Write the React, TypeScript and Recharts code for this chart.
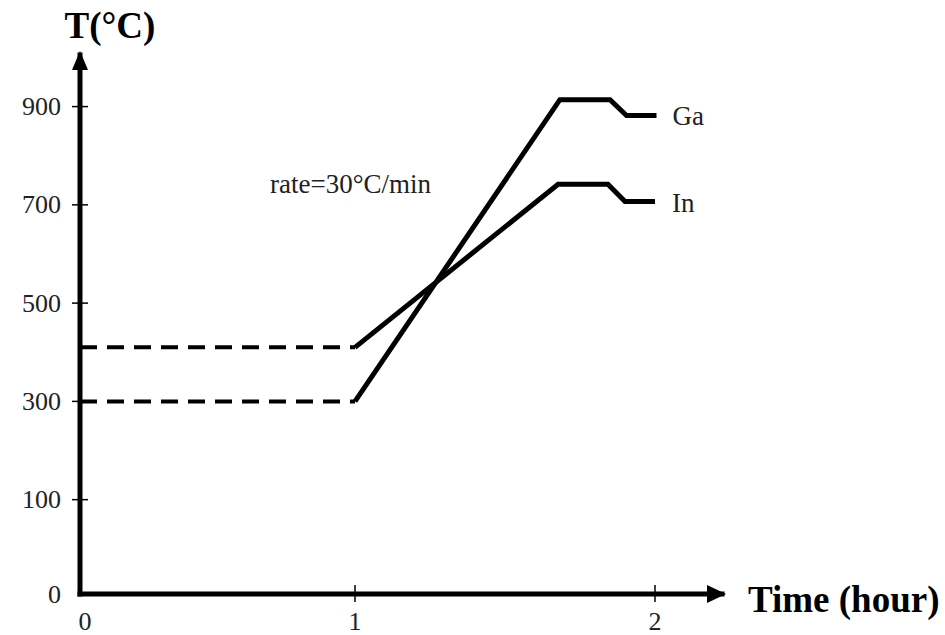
import { LineChart, Line, XAxis, YAxis, ReferenceDot } from 'recharts';

// time in hours, temperature in °C
const gaTime = [1, 1.683, 1.85, 1.905, 2.005];
const gaTemp = [300, 914, 914, 882, 882];
const inTime = [1, 1.677, 1.843, 1.9, 2.0];
const inTemp = [410, 742, 742, 707, 707];

// the hand-drawn axes start a bit before t=0 and below T=0
const X_MIN = 0.0833;
const X_MAX = 2.2233;
const Y_MIN = -92;
const Y_MAX = 1005;

const preheatTime = [X_MIN, 1];
const gaPreheat = [300, 300];
const inPreheat = [410, 410];

const yTicks = [Y_MIN, 100, 300, 500, 700, 900];
const xTicks = [X_MIN, 1, 2];

const rateLabel = 'rate=30°C/min';

const zip = (xs: number[], ys: number[]) => xs.map((x, i) => ({ x, y: ys[i] }));

const gaData = zip(gaTime, gaTemp);
const inData = zip(inTime, inTemp);
const gaPreData = zip(preheatTime, gaPreheat);
const inPreData = zip(preheatTime, inPreheat);

const FONT = '"Liberation Serif", "Times New Roman", serif';

const YTick = (props: any) => {
  const { x, y, payload } = props;
  const isZero = payload.value === Y_MIN;
  return (
    <g>
      {!isZero && <line x1={x - 8} x2={x + 8} y1={y} y2={y} stroke="#000" strokeWidth={1.5} />}
      <text x={x - 19} y={y} textAnchor="end" dominantBaseline="central" fontFamily={FONT} fontSize={26} fill="#222">
        {isZero ? '0' : payload.value}
      </text>
    </g>
  );
};

const XTick = (props: any) => {
  const { x, y, payload } = props;
  const isZero = payload.value === X_MIN;
  return (
    <g>
      {!isZero && <line x1={x} x2={x} y1={y - 9} y2={y + 8} stroke="#000" strokeWidth={1.5} />}
      <text x={isZero ? x + 5 : x} y={y + 27} textAnchor="middle" dominantBaseline="central" fontFamily={FONT} fontSize={26} fill="#222">
        {isZero ? '0' : payload.value}
      </text>
    </g>
  );
};

const textAt = (txt: string, dx: number, dy: number) => (p: any) => (
  <text x={p.cx + dx} y={p.cy + dy} dominantBaseline="central" fontFamily={FONT} fontSize={27} fill="#222">
    {txt}
  </text>
);

export default function App() {
  return (
    <div style={{ position: 'absolute', left: 0, top: 0, background: '#fff' }}>
      <LineChart width={945} height={635} margin={{ top: 55, right: 223, bottom: 0, left: 20 }}>
        <XAxis
          type="number"
          dataKey="x"
          domain={[X_MIN, X_MAX]}
          ticks={xTicks}
          height={41}
          tickSize={0}
          tickMargin={0}
          tick={<XTick />}
          axisLine={{ stroke: '#000', strokeWidth: 5, strokeLinecap: 'square' }}
          allowDataOverflow
          label={{
            content: (p: any) => (
              <text
                x={p.viewBox.x + p.viewBox.width + 26}
                y={p.viewBox.y + 5}
                dominantBaseline="central"
                fontFamily={FONT}
                fontSize={37}
                fontWeight="bold"
                fill="#000"
              >
                Time (hour)
              </text>
            ),
          }}
        />
        <YAxis
          type="number"
          dataKey="y"
          domain={[Y_MIN, Y_MAX]}
          ticks={yTicks}
          width={60}
          tickSize={0}
          tickMargin={0}
          tick={<YTick />}
          axisLine={{ stroke: '#000', strokeWidth: 5, strokeLinecap: 'square' }}
          allowDataOverflow
          label={{
            content: (p: any) => (
              <text
                x={p.viewBox.x + p.viewBox.width + 30}
                y={p.viewBox.y - 30}
                textAnchor="middle"
                dominantBaseline="central"
                fontFamily={FONT}
                fontSize={37}
                fontWeight="bold"
                fill="#000"
              >
                T(°C)
              </text>
            ),
          }}
        />

        <Line data={gaPreData} dataKey="y" stroke="#000" strokeWidth={4} strokeDasharray="17 10" dot={false} isAnimationActive={false} />
        <Line data={inPreData} dataKey="y" stroke="#000" strokeWidth={4} strokeDasharray="17 10" dot={false} isAnimationActive={false} />
        <Line data={gaData} dataKey="y" stroke="#000" strokeWidth={5} dot={false} isAnimationActive={false} />
        <Line data={inData} dataKey="y" stroke="#000" strokeWidth={5} dot={false} isAnimationActive={false} />

        {/* axis arrowheads */}
        <ReferenceDot
          x={X_MAX}
          y={Y_MIN}
          ifOverflow="visible"
          shape={(p: any) => (
            <path d={`M${p.cx + 4},${p.cy} L${p.cx - 15},${p.cy - 9} L${p.cx - 15},${p.cy + 9} Z`} fill="#000" />
          )}
        />
        <ReferenceDot
          x={X_MIN}
          y={Y_MAX}
          ifOverflow="visible"
          shape={(p: any) => (
            <path d={`M${p.cx},${p.cy - 4} L${p.cx - 8},${p.cy + 15} L${p.cx + 8},${p.cy + 15} Z`} fill="#000" />
          )}
        />

        {/* annotations */}
        <ReferenceDot x={gaTime[gaTime.length - 1]} y={gaTemp[gaTemp.length - 1]} ifOverflow="visible" shape={textAt('Ga', 16, 1)} />
        <ReferenceDot x={inTime[inTime.length - 1]} y={inTemp[inTemp.length - 1]} ifOverflow="visible" shape={textAt('In', 17, 2)} />
        <ReferenceDot x={0.717} y={742} ifOverflow="visible" shape={textAt(rateLabel, 0, 0)} />
      </LineChart>
    </div>
  );
}
